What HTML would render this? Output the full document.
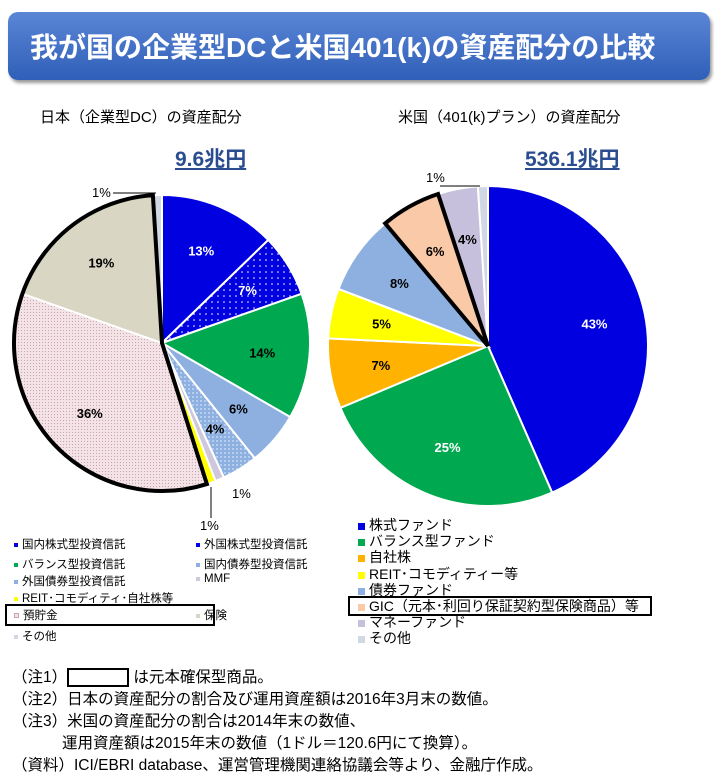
<!DOCTYPE html>
<html><head><meta charset="utf-8"><style>
body{margin:0;width:718px;height:781px;background:#fff;font-family:"Liberation Sans","Noto Sans CJK JP",sans-serif;position:relative;overflow:hidden}
.t{position:absolute;white-space:nowrap}
.lg{position:absolute;font-size:11.5px;white-space:nowrap}
.lg i{display:inline-block;width:4px;height:4px;margin-right:4px;vertical-align:middle}
.rg{position:absolute;font-size:14px;white-space:nowrap;line-height:16px}
.rg i{display:inline-block;width:7px;height:7px;margin-right:4px;vertical-align:middle}
.note{position:absolute;left:12px;font-size:15.5px;white-space:nowrap}
</style></head><body>
<div style="position:absolute;left:8px;top:12px;width:702px;height:68px;border-radius:10px;background:linear-gradient(#5b86d6,#2f5fb8);box-shadow:2px 3px 3px #999"></div>
<div class="t" style="left:30px;top:26px;font-size:28px;color:#fff;font-weight:bold">我が国の企業型DCと米国401(k)の資産配分の比較</div>
<div class="t" style="left:40px;top:106px;font-size:15px">日本（企業型DC）の資産配分</div>
<div class="t" style="left:398px;top:106px;font-size:15px">米国（401(k)プラン）の資産配分</div>
<div class="t" style="left:175px;top:143px;font-size:21px;font-weight:bold;color:#2a4d8f;text-decoration:underline">9.6兆円</div>
<div class="t" style="left:525px;top:143px;font-size:21px;font-weight:bold;color:#2a4d8f;text-decoration:underline">536.1兆円</div>
<svg id="svg" width="718" height="781" style="position:absolute;left:0;top:0">
<defs>
<pattern id="dots" width="6" height="6" patternUnits="userSpaceOnUse"><rect width="6" height="6" fill="#0000e0"/><circle cx="2" cy="2" r="0.8" fill="#fff"/></pattern>
<pattern id="pink" width="3" height="3" patternUnits="userSpaceOnUse"><rect width="3" height="3" fill="#f3e3e6"/><rect width="1" height="1" fill="#c9a5ad"/></pattern>
<pattern id="blu" width="4" height="4" patternUnits="userSpaceOnUse"><rect width="4" height="4" fill="#8db0e0"/><rect width="2" height="2" fill="#b7cdee"/></pattern>
</defs>
</svg>
<div class="lg" style="left:14px;top:536px"><i style="background:#0000e0"></i>国内株式型投資信託</div>
<div class="lg" style="left:196px;top:536px"><i style="background:#0000e0"></i>外国株式型投資信託</div>
<div class="lg" style="left:14px;top:556px"><i style="background:#00a84f"></i>バランス型投資信託</div>
<div class="lg" style="left:196px;top:556px"><i style="background:#8db0e0"></i>国内債券型投資信託</div>
<div class="lg" style="left:14px;top:573px"><i style="background:#8db0e0"></i>外国債券型投資信託</div>
<div class="lg" style="left:196px;top:573px"><i style="background:#cfc8dd"></i>MMF</div>
<div class="lg" style="left:14px;top:590px"><i style="background:#ffff00"></i>REIT･コモディティ･自社株等</div>
<div style="position:absolute;left:5px;top:604px;width:206px;height:18px;border:2px solid #000"></div>
<div class="lg" style="left:14px;top:607px"><i style="background:#f3e3e6;border:1px solid #c9a5ad;width:3px;height:3px"></i>預貯金</div>
<div class="lg" style="left:196px;top:607px"><i style="background:#d9d6c3"></i>保険</div>
<div class="lg" style="left:14px;top:628px"><i style="background:#d0d8e4"></i>その他</div>
<div class="rg" style="left:358px;top:517px"><i style="background:#0000e0"></i>株式ファンド</div>
<div class="rg" style="left:358px;top:533px"><i style="background:#00a84f"></i>バランス型ファンド</div>
<div class="rg" style="left:358px;top:549px"><i style="background:#ffb300"></i>自社株</div>
<div class="rg" style="left:358px;top:566px"><i style="background:#ffff00"></i>REIT･コモディティー等</div>
<div class="rg" style="left:358px;top:582px"><i style="background:#8db0e0"></i>債券ファンド</div>
<div style="position:absolute;left:348px;top:596px;width:300px;height:16px;border:2px solid #000"></div>
<div class="rg" style="left:358px;top:598px"><i style="background:#f9c9a8"></i>GIC（元本･利回り保証契約型保険商品）等</div>
<div class="rg" style="left:358px;top:614px"><i style="background:#c7c0dc"></i>マネーファンド</div>
<div class="rg" style="left:358px;top:630px"><i style="background:#d0d8e4"></i>その他</div>
<div class="note" style="top:665px">（注1）<span style="display:inline-block;width:58px;height:15px;border:2px solid #000;vertical-align:middle"></span> は元本確保型商品。</div>
<div class="note" style="top:687px">（注2）日本の資産配分の割合及び運用資産額は2016年3月末の数値。</div>
<div class="note" style="top:709px">（注3）米国の資産配分の割合は2014年末の数値、</div>
<div class="note" style="top:731px;left:62px">運用資産額は2015年末の数値（1ドル＝120.6円にて換算）。</div>
<div class="note" style="top:753px">（資料）ICI/EBRI database、運営管理機関連絡協議会等より、金融庁作成。</div>
<script>
const jpValues=[13,7,14,6,4,1,1,36,19,1];
const jpLabels=["13%","7%","14%","6%","4%","1%","1%","36%","19%","1%"];
const usValues=[43,25,7,5,8,6,4,1];
const usLabels=["43%","25%","7%","5%","8%","6%","4%","1%"];
const jpFills=["#0000e0","url(#dots)","#00a84f","#8db0e0","url(#blu)","#cfc8dd","#ffff00","url(#pink)","#d9d6c3","#d0d8e4"];
const jpText=["#fff","#fff","#000","#000","#000","","","#000","#000",""];
const usFills=["#0000e0","#00a84f","#ffb300","#ffff00","#8db0e0","#f9c9a8","#c7c0dc","#d0d8e4"];
const usText=["#fff","#fff","#000","#000","#000","#000","#000",""];
const svg=document.getElementById('svg');
const NS='http://www.w3.org/2000/svg';
function pt(cx,cy,r,a){return [cx+r*Math.sin(a),cy-r*Math.cos(a)];}
function arc(cx,cy,r,a0,a1){const p0=pt(cx,cy,r,a0),p1=pt(cx,cy,r,a1);const lg=(a1-a0)>Math.PI?1:0;return `M${cx},${cy}L${p0[0]},${p0[1]}A${r},${r} 0 ${lg} 1 ${p1[0]},${p1[1]}Z`;}
function pie(vals,labels,fills,txt,cx,cy,r,prefix,hl){
 const tot=vals.reduce((a,b)=>a+b,0);let a=0;const angs=[];
 vals.forEach((v,i)=>{const a0=a,a1=a+v/tot*2*Math.PI;angs.push([a0,a1]);a=a1;
  const p=document.createElementNS(NS,'path');p.setAttribute('d',arc(cx,cy,r,a0,a1));p.setAttribute('fill',fills[i]);p.setAttribute('stroke','#fff');p.setAttribute('stroke-width','2');
  
  
  svg.appendChild(p);
  if(txt[i]){const m=(a0+a1)/2;const q=pt(cx,cy,r*0.68,m);const t=document.createElementNS(NS,'text');t.setAttribute('x',q[0]);t.setAttribute('y',q[1]+5);t.setAttribute('text-anchor','middle');t.setAttribute('font-size','13');t.setAttribute('font-weight','bold');t.setAttribute('fill',txt[i]);t.setAttribute('font-family','Liberation Sans, sans-serif');t.textContent=labels[i];
  
  
  svg.appendChild(t);}
 });
 const h=document.createElementNS(NS,'path');h.setAttribute('d',arc(cx,cy,r,angs[hl[0]][0],angs[hl[1]][1]));h.setAttribute('fill','none');h.setAttribute('stroke','#000');h.setAttribute('stroke-width','4');
 
 
 svg.appendChild(h);return angs;
}
function lbl(x,y,s,name){const t=document.createElementNS(NS,'text');t.setAttribute('x',x);t.setAttribute('y',y);t.setAttribute('font-size','13');t.setAttribute('font-family','Liberation Sans, sans-serif');t.textContent=s;
 
 
 svg.appendChild(t);}
function line(x1,y1,x2,y2){const l=document.createElementNS(NS,'line');l.setAttribute('x1',x1);l.setAttribute('y1',y1);l.setAttribute('x2',x2);l.setAttribute('y2',y2);l.setAttribute('stroke','#000');
 
 
 svg.appendChild(l);}
pie(jpValues,jpLabels,jpFills,jpText,162,343,148,'jp',[7,8]);
lbl(232,498,jpLabels[5],'jp-mmf-label');
lbl(200,530,jpLabels[6],'jp-reit-label');line(211,487,211,518);
lbl(92,197,jpLabels[9],'jp-other-label');line(113,193,156,193);
pie(usValues,usLabels,usFills,usText,488,346,160,'us',[5,5]);
lbl(426,182,usLabels[7],'us-other-label');line(440,186,480,186);
</script>
</body></html>
